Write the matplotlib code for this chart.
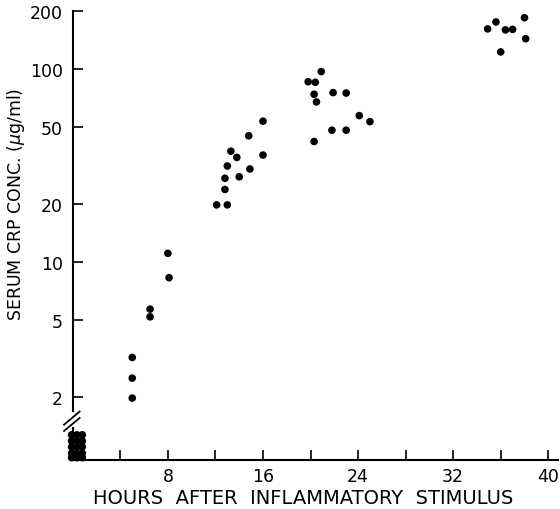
import numpy as np
import matplotlib
matplotlib.use("Agg")
import matplotlib.pyplot as plt
from matplotlib.ticker import FixedLocator, NullLocator, FixedFormatter

# serum CRP after inflammatory stimulus
hours = [8.0, 8.1, 6.5, 6.5, 5.0, 5.0, 5.0,
         16.0, 14.8, 13.3, 13.8, 16.0, 13.0, 14.9, 12.8, 14.0, 12.8, 12.1, 13.0,
         20.9, 19.8, 20.4, 20.3, 21.9, 23.0, 20.5, 24.1, 25.0, 21.8, 23.0, 20.3,
         35.6, 34.9, 36.4, 37.0, 38.0, 38.1, 36.0]
crp = [11.1, 8.3, 5.7, 5.2, 3.2, 2.5, 1.97,
       53.8, 45.2, 37.6, 34.9, 35.9, 31.5, 30.4, 27.2, 27.7, 23.8, 19.8, 19.8,
       97.3, 86.2, 85.6, 74.2, 75.7, 75.3, 67.7, 57.5, 53.5, 48.3, 48.3, 42.2,
       176, 162, 160, 161, 185, 144, 123]

# undetectable values at time zero (drawn below the axis break)
base_hours = [-0.1, 0.35, 0.8]
base_levels = [1.27, 1.18, 1.10, 1.02, 0.967]

yticks = [2, 5, 10, 20, 50, 100, 200]
xticks = [8, 16, 24, 32, 40]
xminor = [4, 12, 20, 28, 36]

plt.rcParams['font.family'] = ['DejaVu Sans']

fig = plt.figure(figsize=(5.6, 5.1), dpi=100)
ax = fig.add_axes([0.130, 0.096, 0.866, 0.880])

ax.scatter(hours, crp, s=30, color='black', edgecolors='none', zorder=3)
bx, by = np.meshgrid(base_hours, base_levels)
ax.scatter(bx.ravel(), by.ravel(), s=30, color='black', edgecolors='none',
           zorder=3, clip_on=False)

ax.set_yscale('log')
ax.set_ylim(0.94, 200)
ax.set_xlim(0, 40.8)

ax.yaxis.set_major_locator(FixedLocator(yticks))
ax.yaxis.set_major_formatter(FixedFormatter([str(v) for v in yticks]))
ax.yaxis.set_minor_locator(NullLocator())
ax.xaxis.set_major_locator(FixedLocator(xticks))
ax.xaxis.set_minor_locator(FixedLocator(xminor))

ax.tick_params(axis='both', which='both', direction='in', length=7, width=1.2,
               labelsize=12.5, color='black')
ax.tick_params(axis='y', pad=7)
ax.tick_params(axis='x', pad=5)

for s in ['top', 'right']:
    ax.spines[s].set_visible(False)
ax.spines['left'].set_linewidth(1.5)
ax.spines['bottom'].set_linewidth(1.5)
ax.spines['left'].set_bounds(1.68, 200)

# lower piece of the broken axis and the break marks
trans = ax.get_yaxis_transform()
ax.plot([0, 0], [0.94, 1.38], transform=trans, color='black', lw=1.5,
        clip_on=False)
for y0 in [1.40, 1.51]:
    ax.plot([-0.018, 0.014], [y0 * 0.95, y0 * 1.11], transform=trans,
            color='black', lw=1.3, clip_on=False)

ax.set_xlabel('HOURS  AFTER  INFLAMMATORY  STIMULUS', fontsize=14)
ax.xaxis.set_label_coords(0.476, -0.062)
ax.set_ylabel('SERUM CRP CONC. ($\\mu$g/ml)', fontsize=12.5)
ax.yaxis.set_label_coords(-0.094, 0.572)

fig.savefig('out.png', dpi=100)
